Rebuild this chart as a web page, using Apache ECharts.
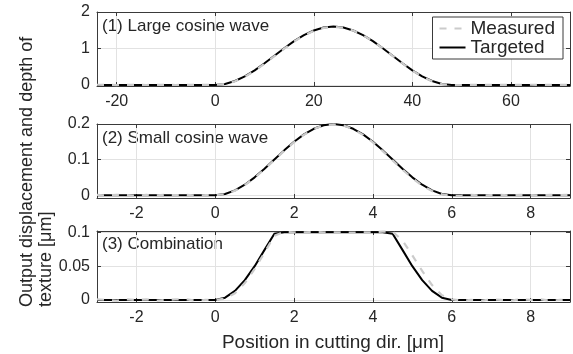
<!DOCTYPE html>
<html>
<head>
<meta charset="utf-8">
<script src="https://cdn.jsdelivr.net/npm/echarts@6/dist/echarts.min.js"></script>
<style>
  html, body { margin: 0; padding: 0; background: #fff; }
  #chart { width: 573px; height: 354px; }
</style>
</head>
<body>
<div id="chart"></div>
<script>
// (1) large cosine wave, x step 2
const x1 = [-24, -22, -20, -18, -16, -14, -12, -10, -8, -6, -4, -2,
  0, 2, 4, 6, 8, 10, 12, 14, 16, 18, 20, 22, 24, 26, 28, 30, 32, 34, 36, 38, 40, 42, 44, 46, 48,
  50, 52, 54, 56, 58, 60, 62, 64, 66, 68, 70, 72];
const target1 = [0, 0, 0, 0, 0, 0, 0, 0, 0, 0, 0, 0,
  0, 0.027, 0.107, 0.234, 0.4, 0.593, 0.8, 1.007, 1.2, 1.366, 1.493, 1.573, 1.6,
  1.573, 1.493, 1.366, 1.2, 1.007, 0.8, 0.593, 0.4, 0.234, 0.107, 0.027, 0,
  0, 0, 0, 0, 0, 0, 0, 0, 0, 0, 0, 0];
const measured1 = [0.004, 0.002, -0.004, 0.003, 0.001, -0.003, 0.002, 0.004, -0.002, 0.001, 0.003, -0.001,
  0.002, 0.022, 0.098, 0.222, 0.388, 0.582, 0.789, 0.996, 1.19, 1.356, 1.483, 1.563, 1.592,
  1.568, 1.49, 1.362, 1.197, 1.002, 0.796, 0.588, 0.394, 0.228, 0.101, 0.021, -0.004,
  -0.003, 0.002, -0.002, 0.003, 0.001, -0.003, 0.002, 0.004, -0.002, 0.001, 0.003, -0.001];

// (2) small cosine wave, x step 0.25
const x2 = [-3, -2.75, -2.5, -2.25, -2, -1.75, -1.5, -1.25, -1, -0.75, -0.5, -0.25,
  0, 0.25, 0.5, 0.75, 1, 1.25, 1.5, 1.75, 2, 2.25, 2.5, 2.75, 3,
  3.25, 3.5, 3.75, 4, 4.25, 4.5, 4.75, 5, 5.25, 5.5, 5.75, 6,
  6.25, 6.5, 6.75, 7, 7.25, 7.5, 7.75, 8, 8.25, 8.5, 8.75, 9];
const target2 = [0, 0, 0, 0, 0, 0, 0, 0, 0, 0, 0, 0,
  0, 0.0034, 0.0134, 0.0293, 0.05, 0.0741, 0.1, 0.1259, 0.15, 0.1707, 0.1866, 0.1966, 0.2,
  0.1966, 0.1866, 0.1707, 0.15, 0.1259, 0.1, 0.0741, 0.05, 0.0293, 0.0134, 0.0034, 0,
  0, 0, 0, 0, 0, 0, 0, 0, 0, 0, 0, 0];
const measured2 = [0.001, -0.001, 0.001, 0, -0.002, 0.001, -0.001, 0.001, 0, 0.001, -0.001, 0,
  0, 0.0028, 0.0124, 0.0283, 0.049, 0.0731, 0.099, 0.1249, 0.149, 0.1699, 0.1859, 0.196, 0.1992,
  0.1958, 0.1855, 0.1693, 0.1484, 0.1238, 0.0978, 0.0718, 0.0476, 0.0272, 0.0118, 0.0024, -0.002,
  -0.001, 0.001, -0.001, 0, 0.001, -0.001, 0.001, 0, -0.001, 0.001, 0, 0.001];

// (3) combination, same x as (2)
const x3 = x2;
const target3 = [0, 0, 0, 0, 0, 0, 0, 0, 0, 0, 0, 0,
  0, 0.0034, 0.0134, 0.0293, 0.05, 0.0741, 0.098, 0.1, 0.1, 0.1, 0.1, 0.1, 0.1,
  0.1, 0.1, 0.1, 0.1, 0.1, 0.098, 0.0741, 0.05, 0.0293, 0.0134, 0.0034, 0,
  0, 0, 0, 0, 0, 0, 0, 0, 0, 0, 0, 0];
const measured3 = [0.001, 0, -0.001, 0.001, 0, 0.001, -0.001, 0, 0.001, 0.001, -0.001, 0,
  0, 0.002, 0.01, 0.025, 0.046, 0.07, 0.095, 0.101, 0.1, 0.1, 0.1005, 0.1, 0.1,
  0.1, 0.0995, 0.1, 0.1, 0.101, 0.101, 0.088, 0.066, 0.043, 0.022, 0.007, 0.001,
  -0.001, 0, -0.001, 0.001, 0, -0.001, 0.001, 0, 0.001, -0.001, 0, 0.001];

const xTicks1 = [-20, 0, 20, 40, 60];
const xTicks2 = [-2, 0, 2, 4, 6, 8];
const yTicks1 = [0, 1, 2];
const yTicks2 = [0, 0.1, 0.2];
const yTicks3 = [0, 0.05, 0.1];

const titles = ['(1) Large cosine wave', '(2) Small cosine wave', '(3) Combination'];

const FONT = "'Liberation Sans', Arial, sans-serif";
const TXT = '#262626';
const AXC = '#3a3a3a';
const GRIDC = '#e2e2e2';

const grids = [
  { left: 97, right: 3, top: 12, height: 74 },
  { left: 97, right: 3, top: 124, height: 74 },
  { left: 97, right: 3, top: 231, height: 71 }
];

function pairs(xs, ys) { return xs.map((x, i) => [x, ys[i]]); }

function mkX(gi, min, max, ticks) {
  const base = {
    type: 'value', gridIndex: gi, min: min, max: max,
    axisLine: { show: true, onZero: false, lineStyle: { color: AXC, width: 1 } },
    axisTick: { show: true, inside: true, length: 4, customValues: ticks, lineStyle: { color: AXC } },
    splitLine: { show: false }
  };
  return [
    Object.assign({}, base, {
      position: 'bottom',
      axisLabel: { customValues: ticks, color: TXT, fontSize: 16, fontFamily: FONT, margin: 8 },
      splitLine: { show: true, customValues: ticks, lineStyle: { color: GRIDC, width: 1 } }
    }),
    Object.assign({}, base, { position: 'top', axisLabel: { show: false } })
  ];
}

function mkY(gi, min, max, ticks) {
  const base = {
    type: 'value', gridIndex: gi, min: min, max: max,
    axisLine: { show: true, onZero: false, lineStyle: { color: AXC, width: 1 } },
    axisTick: { show: true, inside: true, length: 4, customValues: ticks, lineStyle: { color: AXC } },
    splitLine: { show: false }
  };
  return [
    Object.assign({}, base, {
      position: 'left',
      axisLabel: { customValues: ticks, color: TXT, fontSize: 16, fontFamily: FONT, margin: 7 },
      splitLine: { show: true, customValues: ticks, lineStyle: { color: GRIDC, width: 1 } }
    }),
    Object.assign({}, base, { position: 'right', axisLabel: { show: false } })
  ];
}

const xAxes = [].concat(
  mkX(0, -24, 72, xTicks1),
  mkX(1, -3, 9, xTicks2),
  mkX(2, -3, 9, xTicks2)
);
const yAxes = [].concat(
  mkY(0, -0.03, 2, yTicks1),
  mkY(1, -0.008, 0.2, yTicks2),
  mkY(2, -0.003, 0.102, yTicks3)
);

const sets = [[x1, target1, measured1], [x2, target2, measured2], [x3, target3, measured3]];
const series = [];
sets.forEach((s, gi) => {
  series.push({
    name: 'Targeted', type: 'line', xAxisIndex: gi * 2, yAxisIndex: gi * 2,
    data: pairs(s[0], s[1]), symbol: 'none', z: 2, animation: false,
    lineStyle: { color: '#000', width: 2 }, itemStyle: { color: '#000' }
  });
  series.push({
    name: 'Measured', type: 'line', xAxisIndex: gi * 2, yAxisIndex: gi * 2,
    data: pairs(s[0], s[2]), symbol: 'none', z: 3, animation: false,
    lineStyle: { color: '#cbcbcb', width: 2.2, type: [7, 8] }, itemStyle: { color: '#cbcbcb' }
  });
});

const graphic = titles.map((t, i) => ({
  type: 'text', left: 102, top: [18, 130, 236][i],
  style: { text: t, fill: TXT, font: '17px ' + FONT }
}));
graphic.push({
  type: 'text', x: 27, y: 307, rotation: Math.PI / 2,
  style: { text: 'Output displacement and depth of', fill: TXT, font: '18px ' + FONT,
    textAlign: 'left', textVerticalAlign: 'middle' }
});
graphic.push({
  type: 'text', x: 46, y: 307, rotation: Math.PI / 2,
  style: { text: 'texture [\u03bcm]', fill: TXT, font: '18px ' + FONT,
    textAlign: 'left', textVerticalAlign: 'middle' }
});
graphic.push({
  type: 'text', x: 333, y: 343,
  style: { text: 'Position in cutting dir. [\u03bcm]', fill: TXT, font: '19px ' + FONT,
    textAlign: 'center', textVerticalAlign: 'middle' }
});

const chart = echarts.init(document.getElementById('chart'), null, { renderer: 'canvas' });
chart.setOption({
  animation: false,
  backgroundColor: '#fff',
  grid: grids.map(g => Object.assign({ outerBoundsMode: 'none', containLabel: false }, g)),
  xAxis: xAxes,
  yAxis: yAxes,
  legend: {
    data: ['Measured', 'Targeted'],
    orient: 'vertical', right: 10, top: 17,
    backgroundColor: '#fff', borderColor: AXC, borderWidth: 1,
    padding: [2, 8, 2, 6], itemGap: 0, itemWidth: 26, itemHeight: 18,
    itemStyle: { opacity: 0 },
    textStyle: { color: TXT, fontSize: 19, fontFamily: FONT }
  },
  graphic: graphic,
  series: series
});
</script>
</body>
</html>
